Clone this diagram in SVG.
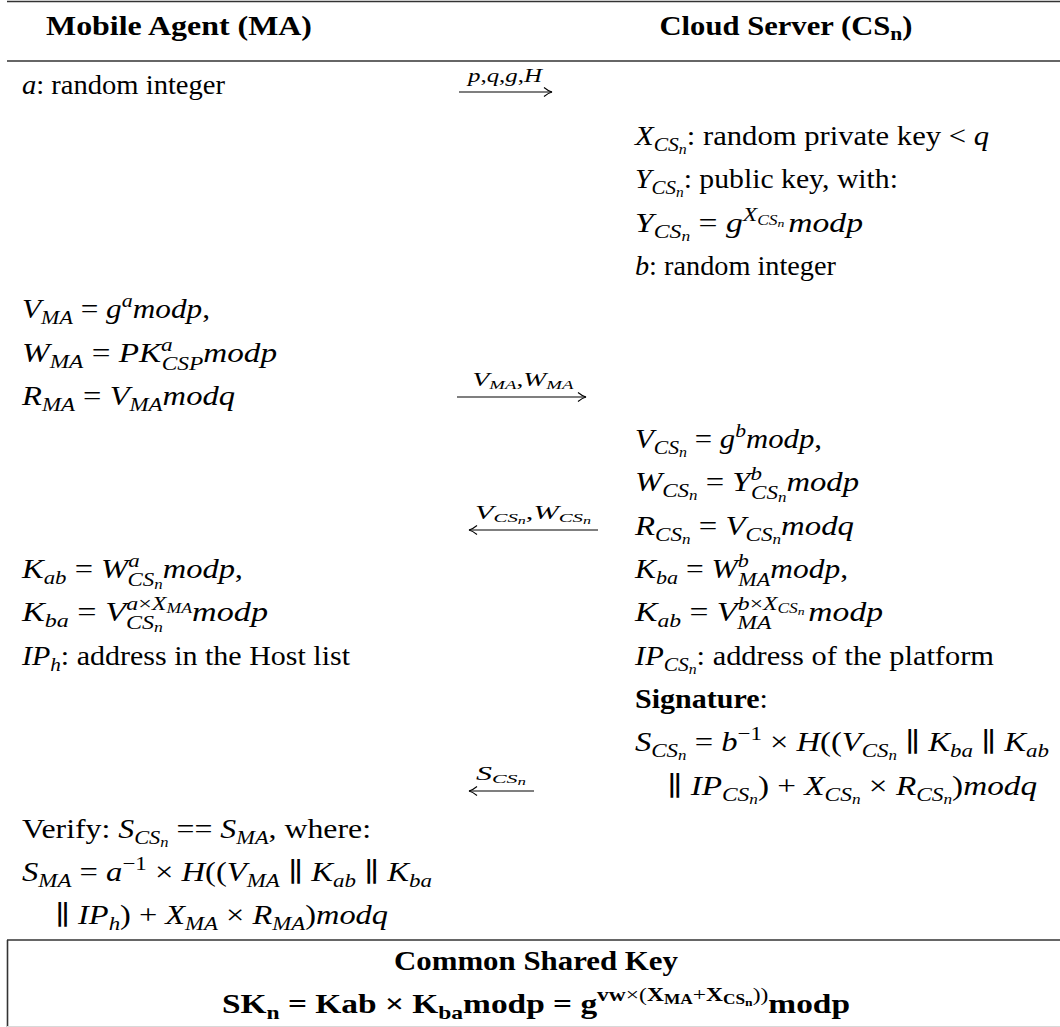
<svg xmlns="http://www.w3.org/2000/svg" width="1060" height="1027" viewBox="0 0 1060 1027">
<style>
.t{font-family:"Liberation Serif","DejaVu Serif",serif;font-size:27px;fill:#000}
.i{font-style:italic}
.b{font-weight:bold}
.s{font-size:19px}
.ss{font-size:14px}
.lb{font-family:"Liberation Serif","DejaVu Serif",serif;font-size:19px;fill:#000;text-anchor:middle}
.rule{stroke:#333;stroke-width:1.6;fill:none}
.arr{stroke:#000;stroke-width:1.1;fill:none;marker-end:url(#hd)}
</style>
<defs>
<marker id="hd" viewBox="-10 -6 12 12" markerWidth="12" markerHeight="12" refX="0" refY="0" orient="auto" markerUnits="userSpaceOnUse">
<path d="M-8,-4.5 C-5,-2 -2,-0.5 0,0 C-2,0.5 -5,2 -8,4.5" stroke="#000" stroke-width="1.1" fill="none"/>
</marker>
</defs>
<rect width="1060" height="1027" fill="#fff"/>
<g id="frame">
<line class="rule" x1="7" y1="1.5" x2="1060" y2="1.5"/>
<line class="rule" x1="7" y1="61" x2="1060" y2="61"/>
<line class="rule" x1="7" y1="940" x2="1060" y2="940"/>
<line class="rule" x1="7.5" y1="940" x2="7.5" y2="1027"/>
<line x1="7" y1="1026.5" x2="1060" y2="1026.5" stroke="#d8d8d8" stroke-width="1"/>
</g>
<g id="header">
<text class="t b" x="179" y="35" text-anchor="middle" textLength="266" lengthAdjust="spacingAndGlyphs">Mobile Agent (MA)</text>
<text class="t b" x="786" y="35" text-anchor="middle" textLength="253" lengthAdjust="spacingAndGlyphs" xml:space="preserve">Cloud Server (CS<tspan class="s" dy="5">n</tspan><tspan dy="-5">)</tspan></text>
</g>
<g id="ma">
<text class="t" x="22" y="94" textLength="203" lengthAdjust="spacingAndGlyphs" xml:space="preserve"><tspan class="i">a</tspan>: random integer</text>
<text class="t" x="22" y="318.2" textLength="188" lengthAdjust="spacingAndGlyphs" xml:space="preserve"><tspan class="i">V</tspan><tspan class="s i" dy="6">MA</tspan><tspan dy="-6"> = </tspan><tspan class="i">g</tspan><tspan class="s i" dy="-11">a</tspan><tspan class="i" dy="11">modp</tspan>,</text>
<text class="t" x="22" y="361.5" textLength="255" lengthAdjust="spacingAndGlyphs" xml:space="preserve"><tspan class="i">W</tspan><tspan class="s i" dy="6">MA</tspan><tspan dy="-6"> = </tspan><tspan class="i">PK</tspan><tspan class="s i" dy="-11">a</tspan><tspan class="s i" dx="-9" dy="19">CSP</tspan><tspan class="i" dy="-8">modp</tspan></text>
<text class="t" x="22" y="404.8" textLength="213" lengthAdjust="spacingAndGlyphs" xml:space="preserve"><tspan class="i">R</tspan><tspan class="s i" dy="6">MA</tspan><tspan dy="-6"> = </tspan><tspan class="i">V</tspan><tspan class="s i" dy="6">MA</tspan><tspan class="i" dy="-6">modq</tspan></text>
<text class="t" x="22" y="578" textLength="221" lengthAdjust="spacingAndGlyphs" xml:space="preserve"><tspan class="i">K</tspan><tspan class="s i" dy="6">ab</tspan><tspan dy="-6"> = </tspan><tspan class="i">W</tspan><tspan class="s i" dy="-11">a</tspan><tspan class="s i" dx="-10" dy="19">CS</tspan><tspan class="ss i" dy="3">n</tspan><tspan class="i" dy="-11">modp</tspan>,</text>
<text class="t" x="22" y="621.3" textLength="246" lengthAdjust="spacingAndGlyphs" xml:space="preserve"><tspan class="i">K</tspan><tspan class="s i" dy="6">ba</tspan><tspan dy="-6"> = </tspan><tspan class="i">V</tspan><tspan class="s i" dy="8">CS</tspan><tspan class="ss i" dy="3">n</tspan><tspan class="s i" dx="-29" dy="-22">a</tspan><tspan class="s">×</tspan><tspan class="s i">X</tspan><tspan class="ss i" dy="3">MA</tspan><tspan class="i" dy="8">modp</tspan></text>
<text class="t" x="22" y="664.6" textLength="328" lengthAdjust="spacingAndGlyphs" xml:space="preserve"><tspan class="i">IP</tspan><tspan class="s i" dy="6">h</tspan><tspan dy="-6">: address in the Host list</tspan></text>
<text class="t" x="22" y="837.8" textLength="349" lengthAdjust="spacingAndGlyphs" xml:space="preserve">Verify: <tspan class="i">S</tspan><tspan class="s i" dy="6">CS</tspan><tspan class="ss i" dy="3">n</tspan><tspan dy="-9"> == </tspan><tspan class="i">S</tspan><tspan class="s i" dy="6">MA</tspan><tspan dy="-6">, where:</tspan></text>
<text class="t" x="22" y="881.1" textLength="410" lengthAdjust="spacingAndGlyphs" xml:space="preserve"><tspan class="i">S</tspan><tspan class="s i" dy="6">MA</tspan><tspan dy="-6"> = </tspan><tspan class="i">a</tspan><tspan class="s" dy="-11">−1</tspan><tspan dy="11"> × </tspan><tspan class="i">H</tspan>((<tspan class="i">V</tspan><tspan class="s i" dy="6">MA</tspan><tspan dy="-6"> ∥ </tspan><tspan class="i">K</tspan><tspan class="s i" dy="6">ab</tspan><tspan dy="-6"> ∥ </tspan><tspan class="i">K</tspan><tspan class="s i" dy="6">ba</tspan></text>
<text class="t" x="55" y="924.4" textLength="333" lengthAdjust="spacingAndGlyphs" xml:space="preserve">∥ <tspan class="i">IP</tspan><tspan class="s i" dy="6">h</tspan><tspan dy="-6">) + </tspan><tspan class="i">X</tspan><tspan class="s i" dy="6">MA</tspan><tspan dy="-6"> × </tspan><tspan class="i">R</tspan><tspan class="s i" dy="6">MA</tspan><tspan dy="-6">)</tspan><tspan class="i">modq</tspan></text>
</g>
<g id="cs">
<text class="t" x="635" y="145" textLength="354" lengthAdjust="spacingAndGlyphs" xml:space="preserve"><tspan class="i">X</tspan><tspan class="s i" dy="6">CS</tspan><tspan class="ss i" dy="3">n</tspan><tspan dy="-9">: random private key &lt; </tspan><tspan class="i">q</tspan></text>
<text class="t" x="635" y="188.3" textLength="263" lengthAdjust="spacingAndGlyphs" xml:space="preserve"><tspan class="i">Y</tspan><tspan class="s i" dy="6">CS</tspan><tspan class="ss i" dy="3">n</tspan><tspan dy="-9">: public key, with:</tspan></text>
<text class="t" x="635" y="231.6" textLength="228" lengthAdjust="spacingAndGlyphs" xml:space="preserve"><tspan class="i">Y</tspan><tspan class="s i" dy="6">CS</tspan><tspan class="ss i" dy="3">n</tspan><tspan dy="-9"> = </tspan><tspan class="i">g</tspan><tspan class="s i" dy="-11">X</tspan><tspan class="ss i" dy="4">CS</tspan><tspan class="i" dy="2" style="font-size:11px">n</tspan><tspan class="i" dx="3" dy="5">modp</tspan></text>
<text class="t" x="635" y="274.9" textLength="201" lengthAdjust="spacingAndGlyphs" xml:space="preserve"><tspan class="i">b</tspan>: random integer</text>
<text class="t" x="635" y="448.1" textLength="187" lengthAdjust="spacingAndGlyphs" xml:space="preserve"><tspan class="i">V</tspan><tspan class="s i" dy="6">CS</tspan><tspan class="ss i" dy="3">n</tspan><tspan dy="-9"> = </tspan><tspan class="i">g</tspan><tspan class="s i" dy="-11">b</tspan><tspan class="i" dy="11">modp</tspan>,</text>
<text class="t" x="635" y="491.4" textLength="224" lengthAdjust="spacingAndGlyphs" xml:space="preserve"><tspan class="i">W</tspan><tspan class="s i" dy="6">CS</tspan><tspan class="ss i" dy="3">n</tspan><tspan dy="-9"> = </tspan><tspan class="i">Y</tspan><tspan class="s i" dy="-11">b</tspan><tspan class="s i" dx="-9" dy="19">CS</tspan><tspan class="ss i" dy="3">n</tspan><tspan class="i" dy="-11">modp</tspan></text>
<text class="t" x="635" y="534.7" textLength="219" lengthAdjust="spacingAndGlyphs" xml:space="preserve"><tspan class="i">R</tspan><tspan class="s i" dy="6">CS</tspan><tspan class="ss i" dy="3">n</tspan><tspan dy="-9"> = </tspan><tspan class="i">V</tspan><tspan class="s i" dy="6">CS</tspan><tspan class="ss i" dy="3">n</tspan><tspan class="i" dy="-9">modq</tspan></text>
<text class="t" x="635" y="578" textLength="213" lengthAdjust="spacingAndGlyphs" xml:space="preserve"><tspan class="i">K</tspan><tspan class="s i" dy="6">ba</tspan><tspan dy="-6"> = </tspan><tspan class="i">W</tspan><tspan class="s i" dy="-11">b</tspan><tspan class="s i" dx="-9" dy="19">MA</tspan><tspan class="i" dy="-8">modp</tspan>,</text>
<text class="t" x="635" y="621.3" textLength="248" lengthAdjust="spacingAndGlyphs" xml:space="preserve"><tspan class="i">K</tspan><tspan class="s i" dy="6">ab</tspan><tspan dy="-6"> = </tspan><tspan class="i">V</tspan><tspan class="s i" dy="8">MA</tspan><tspan class="s i" dx="-27" dy="-19">b</tspan><tspan class="s">×</tspan><tspan class="s i">X</tspan><tspan class="ss i" dy="3">CS</tspan><tspan class="i" dy="2" style="font-size:11px">n</tspan><tspan class="i" dx="3" dy="6">modp</tspan></text>
<text class="t" x="635" y="664.6" textLength="359" lengthAdjust="spacingAndGlyphs" xml:space="preserve"><tspan class="i">IP</tspan><tspan class="s i" dy="6">CS</tspan><tspan class="ss i" dy="3">n</tspan><tspan dy="-9">: address of the platform</tspan></text>
<text class="t" x="635" y="707.9" textLength="133" lengthAdjust="spacingAndGlyphs" xml:space="preserve"><tspan class="b">Signature</tspan>:</text>
<text class="t" x="635" y="751.2" textLength="414" lengthAdjust="spacingAndGlyphs" xml:space="preserve"><tspan class="i">S</tspan><tspan class="s i" dy="6">CS</tspan><tspan class="ss i" dy="3">n</tspan><tspan dy="-9"> = </tspan><tspan class="i">b</tspan><tspan class="s" dy="-11">−1</tspan><tspan dy="11"> × </tspan><tspan class="i">H</tspan>((<tspan class="i">V</tspan><tspan class="s i" dy="6">CS</tspan><tspan class="ss i" dy="3">n</tspan><tspan dy="-9"> ∥ </tspan><tspan class="i">K</tspan><tspan class="s i" dy="6">ba</tspan><tspan dy="-6"> ∥ </tspan><tspan class="i">K</tspan><tspan class="s i" dy="6">ab</tspan></text>
<text class="t" x="667" y="794.5" textLength="370" lengthAdjust="spacingAndGlyphs" xml:space="preserve">∥ <tspan class="i">IP</tspan><tspan class="s i" dy="6">CS</tspan><tspan class="ss i" dy="3">n</tspan><tspan dy="-9">) + </tspan><tspan class="i">X</tspan><tspan class="s i" dy="6">CS</tspan><tspan class="ss i" dy="3">n</tspan><tspan dy="-9"> × </tspan><tspan class="i">R</tspan><tspan class="s i" dy="6">CS</tspan><tspan class="ss i" dy="3">n</tspan><tspan dy="-9">)</tspan><tspan class="i">modq</tspan></text>
</g>
<g id="shared-key">
<text class="t b" x="536" y="970" text-anchor="middle" textLength="284" lengthAdjust="spacingAndGlyphs">Common Shared Key</text>
<text class="t b" x="536" y="1013" text-anchor="middle" textLength="628" lengthAdjust="spacingAndGlyphs" xml:space="preserve">SK<tspan class="s" dy="6">n</tspan><tspan dy="-6"> = Kab × K</tspan><tspan class="s" dy="6">ba</tspan><tspan dy="-6">modp = g</tspan><tspan class="s" dy="-12">vw</tspan><tspan class="s" style="font-weight:normal">×(</tspan><tspan class="s">X</tspan><tspan class="ss" dy="3">MA</tspan><tspan class="s" style="font-weight:normal" dy="-3">+</tspan><tspan class="s">X</tspan><tspan class="ss" dy="3">CS</tspan><tspan dy="2" style="font-size:11px">n</tspan><tspan class="s" style="font-weight:normal" dy="-5">))</tspan><tspan dy="12">modp</tspan></text>
</g>
<g id="connectors">
<line class="arr" x1="459" y1="92" x2="552" y2="92"/>
<text class="lb" x="505" y="82" textLength="74" lengthAdjust="spacingAndGlyphs" xml:space="preserve"><tspan font-style="italic">p</tspan>,<tspan font-style="italic">q</tspan>,<tspan font-style="italic">g</tspan>,<tspan font-style="italic">H</tspan></text>
<line class="arr" x1="457" y1="397" x2="586" y2="397"/>
<text class="lb" x="523" y="386" textLength="101" lengthAdjust="spacingAndGlyphs" xml:space="preserve"><tspan font-style="italic">V</tspan><tspan font-style="italic" font-size="13" dy="3">MA</tspan><tspan dy="-3">,</tspan><tspan font-style="italic">W</tspan><tspan font-style="italic" font-size="13" dy="3">MA</tspan></text>
<line class="arr" x1="598" y1="530" x2="469" y2="530"/>
<text class="lb" x="533" y="519" textLength="116" lengthAdjust="spacingAndGlyphs" xml:space="preserve"><tspan font-style="italic">V</tspan><tspan font-style="italic" font-size="13" dy="3">CS</tspan><tspan font-style="italic" font-size="10" dy="2">n</tspan><tspan dy="-5">,</tspan><tspan font-style="italic">W</tspan><tspan font-style="italic" font-size="13" dy="3">CS</tspan><tspan font-style="italic" font-size="10" dy="2">n</tspan></text>
<line class="arr" x1="534" y1="791" x2="469" y2="791"/>
<text class="lb" x="501" y="780" textLength="50" lengthAdjust="spacingAndGlyphs" xml:space="preserve"><tspan font-style="italic">S</tspan><tspan font-style="italic" font-size="13" dy="3">CS</tspan><tspan font-style="italic" font-size="10" dy="2">n</tspan></text>
</g>
</svg>
